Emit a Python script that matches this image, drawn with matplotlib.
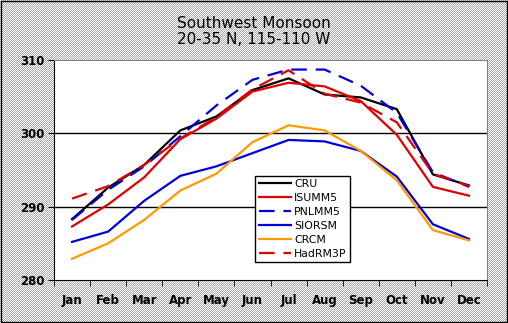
import matplotlib
matplotlib.use("Agg")
import matplotlib.pyplot as plt
import numpy as np

# months and series (K)
months = ["Jan", "Feb", "Mar", "Apr", "May", "Jun", "Jul", "Aug", "Sep", "Oct", "Nov", "Dec"]
cru     = [288.3, 292.6, 295.7, 300.4, 302.3, 305.9, 307.5, 305.3, 304.9, 303.3, 294.4, 292.9]
isumm5  = [287.3, 290.3, 294.0, 299.2, 302.0, 305.7, 306.9, 306.4, 304.4, 299.8, 292.7, 291.5]
pnlmm5  = [288.2, 292.3, 295.5, 299.6, 303.8, 307.3, 308.7, 308.7, 306.5, 302.8, 294.7, 292.7]
siorsm  = [285.2, 286.6, 290.8, 294.2, 295.5, 297.3, 299.1, 298.9, 297.6, 294.1, 287.6, 285.6]
crcm    = [282.9, 285.0, 288.2, 292.2, 294.5, 298.8, 301.1, 300.4, 297.6, 293.6, 286.8, 285.4]
hadrm3p = [291.1, 292.8, 295.7, 299.3, 302.2, 306.0, 308.6, 305.4, 304.2, 301.5, 294.5, 292.8]

fig = plt.figure(figsize=(5.08, 3.23), dpi=100)
fig.patch.set_facecolor("#cfcfcf")

# dithered grey background like the original
yy, xx = np.mgrid[0:323, 0:508]
checker = np.where((xx + yy) % 2 == 0, 1.0, 0.66)
fig.figimage(checker, xo=0, yo=0, cmap="gray", vmin=0, vmax=1, zorder=-5)
fig.patches.append(plt.Rectangle((0.001, 0.002), 0.997, 0.995, transform=fig.transFigure,
                                 fill=False, edgecolor="black", linewidth=1.0))

ax = fig.add_axes([0.1063, 0.1331, 0.8524, 0.6811])
ax.set_facecolor("white")
x = np.arange(len(months))

ax.axhline(290, color="black", linewidth=1.0, zorder=1)
ax.axhline(300, color="black", linewidth=1.0, zorder=1)

ax.plot(x, cru, color="black", linewidth=1.6, label="CRU", zorder=3)
ax.plot(x, isumm5, color="#e00000", linewidth=1.6, label="ISUMM5", zorder=3)
ax.plot(x, pnlmm5, color="#0000e0", linewidth=1.6, dashes=(7, 4), label="PNLMM5", zorder=3)
ax.plot(x, siorsm, color="#0000e0", linewidth=1.6, label="SIORSM", zorder=3)
ax.plot(x, crcm, color="#ff9900", linewidth=1.6, label="CRCM", zorder=3)
ax.plot(x, hadrm3p, color="#e00000", linewidth=1.6, dashes=(7, 4), label="HadRM3P", zorder=3)

ax.set_xlim(-0.5, 11.5)
ax.set_ylim(280, 310)
ax.set_yticks([280, 290, 300, 310])
ax.set_xticks(x)
ax.set_xticklabels(months)
ax.set_xticks(np.arange(-0.5, 12, 1), minor=True)
ax.tick_params(axis="x", which="major", length=0, pad=10)
ax.tick_params(axis="x", which="minor", length=4, direction="out")
ax.tick_params(axis="y", length=4, direction="out", pad=3)
for lab in ax.get_xticklabels() + ax.get_yticklabels():
    lab.set_fontweight("bold")
    lab.set_fontsize(8.5)

for side in ["top", "right"]:
    ax.spines[side].set_color("#808080")
ax.spines["left"].set_color("black")
ax.spines["bottom"].set_color("black")

leg = ax.legend(loc="upper left", bbox_to_anchor=(0.465, 0.473), fontsize=7.8,
                frameon=True, fancybox=False, edgecolor="black", framealpha=1,
                handlelength=3.0, handletextpad=0.3, labelspacing=0.36,
                borderpad=0.3, borderaxespad=0)
leg.get_frame().set_linewidth(1.0)

fig.text(0.5, 0.902, "Southwest Monsoon\n20-35 N, 115-110 W", ha="center", va="center",
         fontsize=11, linespacing=1.05)

fig.savefig("out.png", dpi=100, facecolor=fig.get_facecolor())
